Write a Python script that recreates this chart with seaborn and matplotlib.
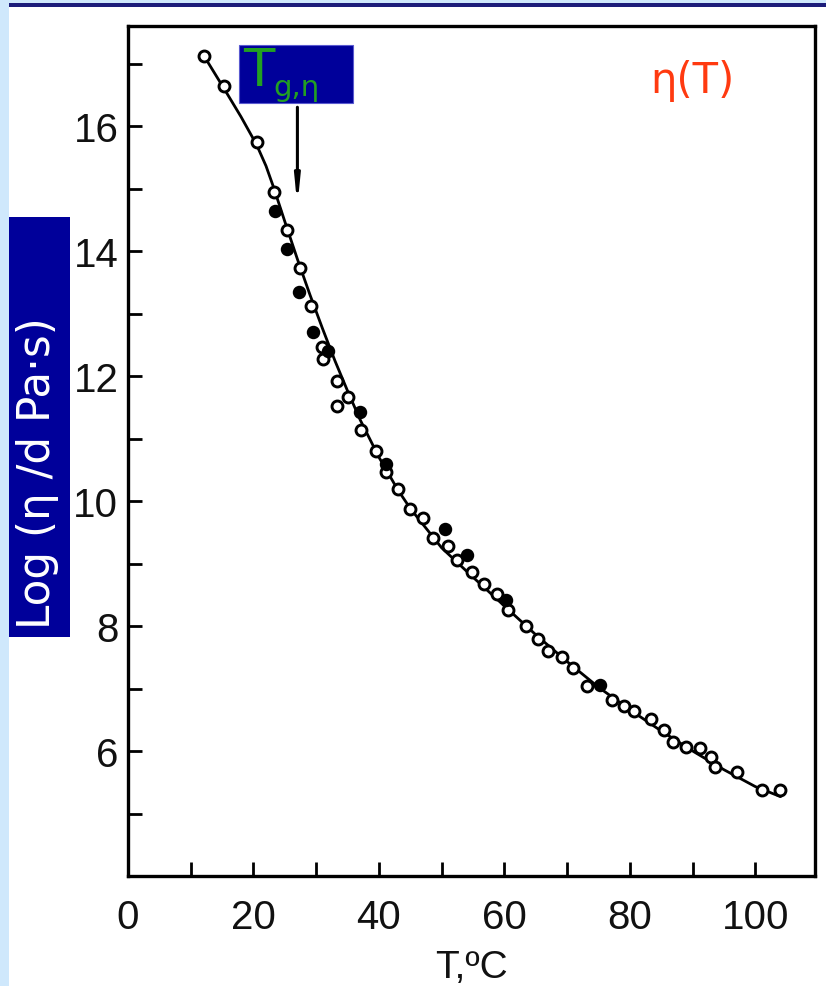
import matplotlib
matplotlib.use("Agg")
import matplotlib.pyplot as plt
from matplotlib.patches import Rectangle
import numpy as np
import pandas as pd
import seaborn as sns

# Measured viscosity: open and filled symbols (T in degC, log10 of eta in dPa s)
open_T = [12.1, 15.3, 20.5, 23.2, 25.3, 27.4, 29.1, 30.9, 31.1, 33.3, 33.3, 35.0,
          37.1, 39.6, 41.1, 43.0, 44.9, 47.0, 48.6, 51.0, 52.5, 54.9, 56.8, 58.8,
          60.5, 63.5, 65.3, 66.9, 69.1, 70.9, 73.1, 77.1, 79.1, 80.7, 83.3, 85.4,
          86.8, 89.0, 91.1, 93.0, 93.5, 97.1, 101.0, 104.0]
open_logeta = [17.12, 16.64, 15.74, 14.94, 14.34, 13.73, 13.12, 12.46, 12.27, 11.92, 11.52, 11.66,
               11.14, 10.80, 10.46, 10.19, 9.87, 9.73, 9.41, 9.28, 9.06, 8.86, 8.67, 8.51,
               8.26, 8.00, 7.79, 7.60, 7.50, 7.33, 7.04, 6.82, 6.72, 6.64, 6.51, 6.34,
               6.14, 6.06, 6.05, 5.90, 5.74, 5.66, 5.37, 5.37]
filled_T = [23.4, 25.3, 27.2, 29.5, 31.8, 36.9, 41.2, 50.6, 54.0, 60.2, 75.2]
filled_logeta = [14.64, 14.03, 13.34, 12.70, 12.40, 11.42, 10.59, 9.55, 9.14, 8.42, 7.06]

# Fitted curve through the measurements
curve_T = [12.0, 15.3, 18.0, 20.5, 22.0, 23.2, 25.0, 27.0, 29.0, 31.0, 33.0,
           35.0, 37.0, 40.0, 43.0, 45.0, 50.0, 55.0, 60.0, 65.0, 70.0, 75.0, 80.0,
           85.0, 90.0, 95.0, 100.0, 104.0]
curve_logeta = [17.14, 16.60, 16.15, 15.70, 15.36, 15.02, 14.47, 13.87, 13.30, 12.76, 12.24,
                11.76, 11.30, 10.70, 10.18, 9.88, 9.25, 8.78, 8.32, 7.86, 7.43, 7.02, 6.66,
                6.32, 6.00, 5.70, 5.43, 5.27]

x_ticks = [0, 10, 20, 30, 40, 50, 60, 70, 80, 90, 100]
x_tick_labels = ["0", "", "20", "", "40", "", "60", "", "80", "", "100"]
y_ticks = [5, 6, 7, 8, 9, 10, 11, 12, 13, 14, 15, 16, 17]
y_tick_labels = ["", "6", "", "8", "", "10", "", "12", "", "14", "", "16", ""]

tg_T = 27.0

sns.set_theme(style="white")
plt.rcParams["font.family"] = ["Liberation Sans", "DejaVu Sans"]

NAVY = "#00009a"
LIGHT = "#cfe8fc"

fig = plt.figure(figsize=(8.26, 9.87), dpi=100, facecolor="white")

# page frame: light blue margin strips and navy rule
fig.patches.append(Rectangle((0, 0), 9 / 826, 1, transform=fig.transFigure,
                             facecolor=LIGHT, edgecolor="none", zorder=0))
fig.patches.append(Rectangle((0, 1 - 4 / 987), 1, 4 / 987, transform=fig.transFigure,
                             facecolor=LIGHT, edgecolor="none", zorder=0))
fig.patches.append(Rectangle((9 / 826, 1 - 7.5 / 987), 1, 3.5 / 987, transform=fig.transFigure,
                             facecolor="#1c1c7a", edgecolor="none", zorder=1))

ax = fig.add_axes([128 / 826, 1 - 877 / 987, (815 - 128) / 826, (877 - 27) / 987])
ax.set_facecolor("white")

curve_df = pd.DataFrame({"T": curve_T, "logeta": curve_logeta})
open_df = pd.DataFrame({"T": open_T, "logeta": open_logeta})
filled_df = pd.DataFrame({"T": filled_T, "logeta": filled_logeta})

sns.lineplot(data=curve_df, x="T", y="logeta", ax=ax, color="black", linewidth=2.0,
             sort=True, zorder=2)
sns.scatterplot(data=open_df, x="T", y="logeta", ax=ax, s=62, facecolor="white",
                edgecolor="black", linewidth=2.1, zorder=3)
sns.scatterplot(data=filled_df, x="T", y="logeta", ax=ax, s=62, color="black",
                edgecolor="black", linewidth=1.8, zorder=4)

ax.set_xlim(0, 109.5)
ax.set_ylim(4, 17.6)
ax.set_xticks(x_ticks)
ax.set_xticklabels(x_tick_labels)
ax.set_yticks(y_ticks)
ax.set_yticklabels(y_tick_labels)
ax.tick_params(axis="both", which="major", direction="in", length=10, width=2.0,
               color="black", labelsize=29, labelcolor="#111111",
               bottom=True, left=True, top=False, right=False)
ax.tick_params(axis="x", pad=16)
ax.tick_params(axis="y", pad=7)
for side in ["left", "right", "top", "bottom"]:
    ax.spines[side].set_visible(True)
    ax.spines[side].set_color("black")
    ax.spines[side].set_linewidth(2.4)

ax.set_xlabel("T,ºC", fontsize=28, color="#111111", labelpad=9)
ax.set_ylabel("")

# glass transition marker
ax.annotate("", xy=(tg_T, 14.72), xytext=(tg_T, 16.3),
            arrowprops=dict(arrowstyle="-|>,head_width=0.12,head_length=1.2",
                            color="black", lw=2.2, shrinkA=0, shrinkB=0))

# label boxes
fig.patches.append(Rectangle((239 / 826, 1 - 104 / 987), 114 / 826, 58 / 987,
                             transform=fig.transFigure, facecolor=NAVY,
                             edgecolor="#5a5ad0", linewidth=0.8, zorder=5))
fig.text(243 / 826, 1 - 86 / 987, "T", color="#22a022", fontsize=37,
         family=["DejaVu Sans"], ha="left", va="baseline", zorder=6)
fig.text(273 / 826, 1 - 96 / 987, "g,η", color="#22a022", fontsize=21,
         family=["DejaVu Sans"], ha="left", va="baseline", zorder=6)

fig.patches.append(Rectangle((9 / 826, 1 - 638 / 987), 61 / 826, 420 / 987,
                             transform=fig.transFigure, facecolor=NAVY,
                             edgecolor="none", zorder=5))
fig.text(38 / 826, 1 - 629 / 987, "Log (η /d Pa·s)", color="white", fontsize=31.5,
         family=["DejaVu Sans"], rotation=90, ha="center", va="bottom", zorder=6)

fig.text(692 / 826, 1 - 81 / 987, "η(T)", color="#ff3a10", fontsize=30,
         family=["DejaVu Sans"], ha="center", va="center", zorder=6)

fig.savefig("out.png", dpi=100, facecolor=fig.get_facecolor())
